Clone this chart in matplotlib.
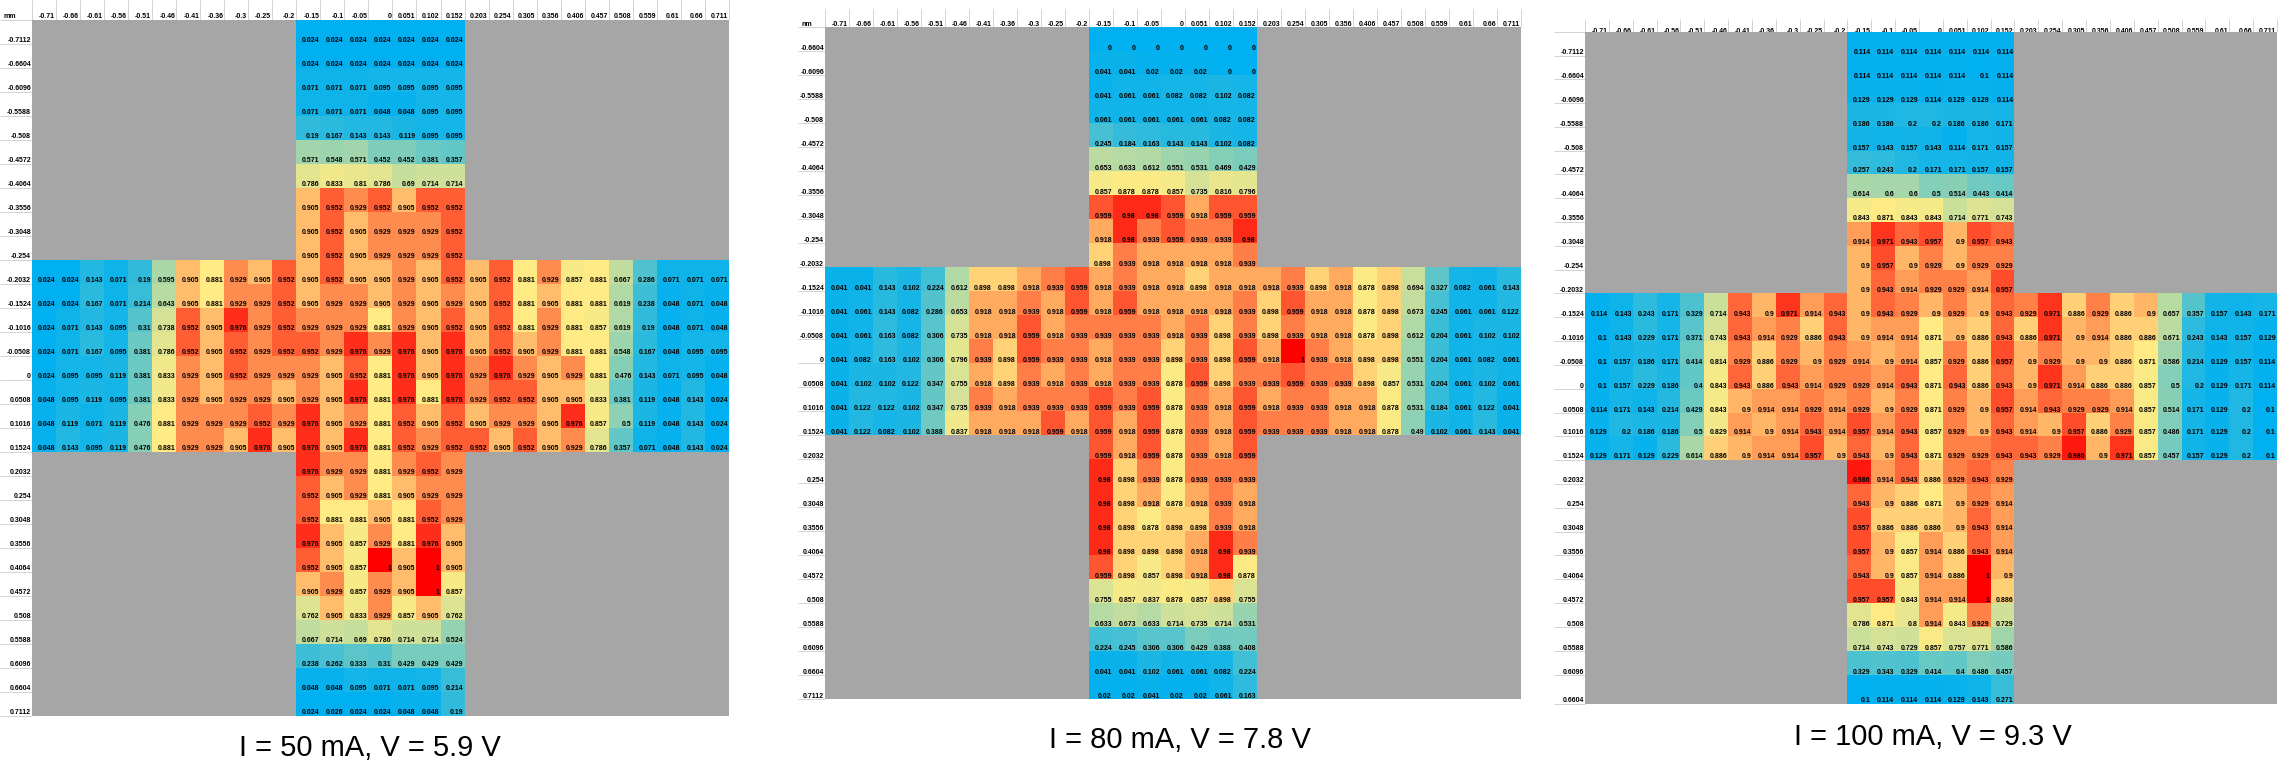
#!/usr/bin/env python3

"""
Normalised emission maps of a cross shaped device at three drive currents.
"""

import matplotlib

matplotlib.use("Agg")
import matplotlib.pyplot as plt
from matplotlib.colors import LinearSegmentedColormap, TwoSlopeNorm
import numpy as np

col_labels = [
    "-0.71", "-0.66", "-0.61", "-0.56", "-0.51", "-0.46", "-0.41", "-0.36", "-0.3", "-0.25",
    "-0.2", "-0.15", "-0.1", "-0.05", "0", "0.051", "0.102", "0.152", "0.203", "0.254",
    "0.305", "0.356", "0.406", "0.457", "0.508", "0.559", "0.61", "0.66", "0.711",
]
row_labels = [
    "-0.7112", "-0.6604", "-0.6096", "-0.5588", "-0.508", "-0.4572", "-0.4064", "-0.3556",
    "-0.3048", "-0.254", "-0.2032", "-0.1524", "-0.1016", "-0.0508", "0", "0.0508", "0.1016",
    "0.1524", "0.2032", "0.254", "0.3048", "0.3556", "0.4064", "0.4572", "0.508", "0.5588",
    "0.6096", "0.6604", "0.7112",
]

# I = 50 mA
top_50 = [
    [0.024, 0.024, 0.024, 0.024, 0.024, 0.024, 0.024],
    [0.024, 0.024, 0.024, 0.024, 0.024, 0.024, 0.024],
    [0.071, 0.071, 0.071, 0.095, 0.095, 0.095, 0.095],
    [0.071, 0.071, 0.071, 0.048, 0.048, 0.095, 0.095],
    [0.19, 0.167, 0.143, 0.143, 0.119, 0.095, 0.095],
    [0.571, 0.548, 0.571, 0.452, 0.452, 0.381, 0.357],
    [0.786, 0.833, 0.81, 0.786, 0.69, 0.714, 0.714],
    [0.905, 0.952, 0.929, 0.952, 0.905, 0.952, 0.952],
    [0.905, 0.952, 0.905, 0.929, 0.929, 0.929, 0.952],
    [0.905, 0.952, 0.905, 0.929, 0.929, 0.929, 0.952],
]
mid_50 = [
    [0.024, 0.024, 0.143, 0.071, 0.19, 0.595, 0.905, 0.881, 0.929, 0.905, 0.952,
     0.905, 0.952, 0.905, 0.905, 0.929, 0.905, 0.952,
     0.905, 0.952, 0.881, 0.929, 0.857, 0.881, 0.667, 0.286, 0.071, 0.071, 0.071],
    [0.024, 0.024, 0.167, 0.071, 0.214, 0.643, 0.905, 0.881, 0.929, 0.929, 0.952,
     0.905, 0.929, 0.929, 0.905, 0.929, 0.905, 0.929,
     0.905, 0.952, 0.881, 0.905, 0.881, 0.881, 0.619, 0.238, 0.048, 0.071, 0.048],
    [0.024, 0.071, 0.143, 0.095, 0.31, 0.738, 0.952, 0.905, 0.976, 0.929, 0.952,
     0.929, 0.929, 0.929, 0.881, 0.929, 0.905, 0.952,
     0.905, 0.952, 0.881, 0.929, 0.881, 0.857, 0.619, 0.19, 0.048, 0.071, 0.048],
    [0.024, 0.071, 0.167, 0.095, 0.381, 0.786, 0.952, 0.905, 0.952, 0.929, 0.952,
     0.952, 0.929, 0.976, 0.929, 0.976, 0.905, 0.976,
     0.905, 0.952, 0.905, 0.929, 0.881, 0.881, 0.548, 0.167, 0.048, 0.095, 0.095],
    [0.024, 0.095, 0.095, 0.119, 0.381, 0.833, 0.929, 0.905, 0.952, 0.929, 0.929,
     0.929, 0.905, 0.952, 0.881, 0.976, 0.905, 0.976,
     0.929, 0.976, 0.929, 0.905, 0.929, 0.881, 0.476, 0.143, 0.071, 0.095, 0.048],
    [0.048, 0.095, 0.119, 0.095, 0.381, 0.833, 0.929, 0.905, 0.929, 0.929, 0.905,
     0.929, 0.905, 0.976, 0.881, 0.976, 0.881, 0.976,
     0.929, 0.952, 0.952, 0.905, 0.905, 0.833, 0.381, 0.119, 0.048, 0.143, 0.024],
    [0.048, 0.119, 0.071, 0.119, 0.476, 0.881, 0.929, 0.929, 0.929, 0.952, 0.929,
     0.976, 0.905, 0.929, 0.881, 0.952, 0.905, 0.952,
     0.905, 0.929, 0.929, 0.905, 0.976, 0.857, 0.5, 0.119, 0.048, 0.143, 0.024],
    [0.048, 0.143, 0.095, 0.119, 0.476, 0.881, 0.929, 0.929, 0.905, 0.976, 0.905,
     0.976, 0.905, 0.976, 0.881, 0.952, 0.929, 0.952,
     0.952, 0.905, 0.952, 0.905, 0.929, 0.786, 0.357, 0.071, 0.048, 0.143, 0.024],
]
bottom_50 = [
    [0.976, 0.929, 0.929, 0.881, 0.929, 0.952, 0.929],
    [0.952, 0.905, 0.929, 0.881, 0.905, 0.929, 0.929],
    [0.952, 0.881, 0.881, 0.905, 0.881, 0.952, 0.929],
    [0.976, 0.905, 0.857, 0.929, 0.881, 0.976, 0.905],
    [0.952, 0.905, 0.857, 1, 0.905, 1, 0.905],
    [0.905, 0.929, 0.857, 0.929, 0.905, 1, 0.857],
    [0.762, 0.905, 0.833, 0.929, 0.857, 0.905, 0.762],
    [0.667, 0.714, 0.69, 0.786, 0.714, 0.714, 0.524],
    [0.238, 0.262, 0.333, 0.31, 0.429, 0.429, 0.429],
    [0.048, 0.048, 0.095, 0.071, 0.071, 0.095, 0.214],
    [0.024, 0.026, 0.024, 0.024, 0.048, 0.048, 0.19],
]

# I = 80 mA
top_80 = [
    [0, 0, 0, 0, 0, 0, 0],
    [0.041, 0.041, 0.02, 0.02, 0.02, 0, 0],
    [0.041, 0.061, 0.061, 0.082, 0.082, 0.102, 0.082],
    [0.061, 0.061, 0.061, 0.061, 0.061, 0.082, 0.082],
    [0.245, 0.184, 0.163, 0.143, 0.143, 0.102, 0.082],
    [0.653, 0.633, 0.612, 0.551, 0.531, 0.469, 0.429],
    [0.857, 0.878, 0.878, 0.857, 0.735, 0.816, 0.796],
    [0.959, 0.98, 0.98, 0.959, 0.918, 0.959, 0.959],
    [0.918, 0.98, 0.939, 0.959, 0.939, 0.939, 0.98],
    [0.898, 0.939, 0.918, 0.918, 0.918, 0.918, 0.939],
]
mid_80 = [
    [0.041, 0.041, 0.143, 0.102, 0.224, 0.612, 0.898, 0.898, 0.918, 0.939, 0.959,
     0.918, 0.939, 0.918, 0.918, 0.898, 0.918, 0.918,
     0.918, 0.939, 0.898, 0.918, 0.878, 0.898, 0.694, 0.327, 0.082, 0.061, 0.143],
    [0.041, 0.061, 0.143, 0.082, 0.286, 0.653, 0.918, 0.918, 0.939, 0.918, 0.959,
     0.918, 0.959, 0.918, 0.918, 0.918, 0.918, 0.939,
     0.898, 0.959, 0.918, 0.918, 0.878, 0.898, 0.673, 0.245, 0.061, 0.061, 0.122],
    [0.041, 0.061, 0.163, 0.082, 0.306, 0.735, 0.918, 0.918, 0.959, 0.918, 0.939,
     0.939, 0.939, 0.939, 0.918, 0.939, 0.898, 0.939,
     0.898, 0.939, 0.918, 0.918, 0.878, 0.898, 0.612, 0.204, 0.061, 0.102, 0.102],
    [0.041, 0.082, 0.163, 0.102, 0.306, 0.796, 0.939, 0.898, 0.959, 0.939, 0.939,
     0.918, 0.939, 0.939, 0.898, 0.939, 0.898, 0.959,
     0.918, 1, 0.939, 0.918, 0.898, 0.898, 0.551, 0.204, 0.061, 0.082, 0.061],
    [0.041, 0.102, 0.102, 0.122, 0.347, 0.755, 0.918, 0.898, 0.939, 0.918, 0.939,
     0.918, 0.939, 0.939, 0.878, 0.959, 0.898, 0.939,
     0.939, 0.959, 0.939, 0.939, 0.898, 0.857, 0.531, 0.204, 0.061, 0.102, 0.061],
    [0.041, 0.122, 0.122, 0.102, 0.347, 0.735, 0.939, 0.918, 0.939, 0.939, 0.939,
     0.959, 0.939, 0.959, 0.878, 0.939, 0.918, 0.959,
     0.918, 0.939, 0.939, 0.918, 0.918, 0.878, 0.531, 0.184, 0.061, 0.122, 0.041],
    [0.041, 0.122, 0.082, 0.102, 0.388, 0.837, 0.918, 0.918, 0.918, 0.959, 0.918,
     0.959, 0.918, 0.959, 0.878, 0.939, 0.918, 0.959,
     0.939, 0.939, 0.939, 0.918, 0.918, 0.878, 0.49, 0.102, 0.061, 0.143, 0.041],
]
bottom_80 = [
    [0.959, 0.918, 0.959, 0.878, 0.939, 0.918, 0.959],
    [0.98, 0.898, 0.939, 0.878, 0.939, 0.939, 0.939],
    [0.98, 0.898, 0.918, 0.878, 0.918, 0.939, 0.918],
    [0.98, 0.898, 0.878, 0.898, 0.898, 0.939, 0.918],
    [0.98, 0.898, 0.898, 0.898, 0.918, 0.98, 0.939],
    [0.959, 0.898, 0.857, 0.898, 0.918, 0.98, 0.878],
    [0.755, 0.857, 0.837, 0.878, 0.857, 0.898, 0.755],
    [0.633, 0.673, 0.633, 0.714, 0.735, 0.714, 0.531],
    [0.224, 0.245, 0.306, 0.306, 0.429, 0.388, 0.408],
    [0.041, 0.041, 0.102, 0.061, 0.061, 0.082, 0.224],
    [0.02, 0.02, 0.041, 0.02, 0.02, 0.061, 0.163],
]

# I = 100 mA
top_100 = [
    [0.114, 0.114, 0.114, 0.114, 0.114, 0.114, 0.114],
    [0.114, 0.114, 0.114, 0.114, 0.114, 0.1, 0.114],
    [0.129, 0.129, 0.129, 0.114, 0.129, 0.129, 0.114],
    [0.186, 0.186, 0.2, 0.2, 0.186, 0.186, 0.171],
    [0.157, 0.143, 0.157, 0.143, 0.114, 0.171, 0.157],
    [0.257, 0.243, 0.2, 0.171, 0.171, 0.157, 0.157],
    [0.614, 0.6, 0.6, 0.5, 0.514, 0.443, 0.414],
    [0.843, 0.871, 0.843, 0.843, 0.714, 0.771, 0.743],
    [0.914, 0.971, 0.943, 0.957, 0.9, 0.957, 0.943],
    [0.9, 0.957, 0.9, 0.929, 0.9, 0.929, 0.929],
    [0.9, 0.943, 0.914, 0.929, 0.929, 0.914, 0.957],
]
mid_100 = [
    [0.114, 0.143, 0.243, 0.171, 0.329, 0.714, 0.943, 0.9, 0.971, 0.914, 0.943,
     0.9, 0.943, 0.929, 0.9, 0.929, 0.9, 0.943,
     0.929, 0.971, 0.886, 0.929, 0.886, 0.9, 0.657, 0.357, 0.157, 0.143, 0.171],
    [0.1, 0.143, 0.229, 0.171, 0.371, 0.743, 0.943, 0.914, 0.929, 0.886, 0.943,
     0.9, 0.914, 0.914, 0.871, 0.9, 0.886, 0.943,
     0.886, 0.971, 0.9, 0.914, 0.886, 0.886, 0.671, 0.243, 0.143, 0.157, 0.129],
    [0.1, 0.157, 0.186, 0.171, 0.414, 0.814, 0.929, 0.886, 0.929, 0.9, 0.929,
     0.914, 0.9, 0.914, 0.857, 0.929, 0.886, 0.957,
     0.9, 0.929, 0.9, 0.9, 0.886, 0.871, 0.586, 0.214, 0.129, 0.157, 0.114],
    [0.1, 0.157, 0.229, 0.186, 0.4, 0.843, 0.943, 0.886, 0.943, 0.914, 0.929,
     0.929, 0.914, 0.943, 0.871, 0.943, 0.886, 0.943,
     0.9, 0.971, 0.914, 0.886, 0.886, 0.857, 0.5, 0.2, 0.129, 0.171, 0.114],
    [0.114, 0.171, 0.143, 0.214, 0.429, 0.843, 0.9, 0.914, 0.914, 0.929, 0.914,
     0.929, 0.9, 0.929, 0.871, 0.929, 0.9, 0.957,
     0.914, 0.943, 0.929, 0.929, 0.914, 0.857, 0.514, 0.171, 0.129, 0.2, 0.1],
    [0.129, 0.2, 0.186, 0.186, 0.5, 0.829, 0.914, 0.9, 0.914, 0.943, 0.914,
     0.957, 0.914, 0.943, 0.857, 0.929, 0.9, 0.943,
     0.914, 0.9, 0.957, 0.886, 0.929, 0.857, 0.486, 0.171, 0.129, 0.2, 0.1],
    [0.129, 0.171, 0.129, 0.229, 0.614, 0.886, 0.9, 0.914, 0.914, 0.957, 0.9,
     0.943, 0.9, 0.943, 0.871, 0.929, 0.929, 0.943,
     0.943, 0.929, 0.986, 0.9, 0.971, 0.857, 0.457, 0.157, 0.129, 0.2, 0.1],
]
bottom_100 = [
    [0.986, 0.914, 0.943, 0.886, 0.929, 0.943, 0.929],
    [0.943, 0.9, 0.886, 0.871, 0.9, 0.929, 0.914],
    [0.957, 0.886, 0.886, 0.886, 0.9, 0.943, 0.914],
    [0.957, 0.9, 0.857, 0.914, 0.886, 0.943, 0.914],
    [0.943, 0.9, 0.857, 0.914, 0.886, 1, 0.9],
    [0.957, 0.957, 0.843, 0.914, 0.914, 1, 0.886],
    [0.786, 0.871, 0.8, 0.914, 0.843, 0.929, 0.729],
    [0.714, 0.743, 0.729, 0.857, 0.757, 0.771, 0.586],
    [0.329, 0.343, 0.329, 0.414, 0.4, 0.486, 0.457],
    [0.1, 0.114, 0.114, 0.114, 0.129, 0.143, 0.271],
]

GREY = "#a6a6a6"
LINE = "#d4d4d4"
cell_cmap = LinearSegmentedColormap.from_list(
    "excel", ["#00b0f0", "#ffeb84", "#ff0000"]
).with_extremes(bad=GREY)


def fmt(v):
    return f"{v:.3f}".rstrip("0").rstrip(".")


def build_grid(top, mid, bottom):
    """Stack the three arms into one grid, nan outside the cross"""
    grid = np.full((len(top) + len(mid) + len(bottom), 29), np.nan)
    grid[: len(top), 11:18] = top
    grid[len(top) : len(top) + len(mid)] = mid
    grid[len(top) + len(mid) :, 11:18] = bottom
    return np.ma.masked_invalid(grid)


def draw_panel(ax, grid, rows, x_edges, y_edges, vmid, margin_x, header_top, header_base, corner, title, title_x, title_y):
    norm = TwoSlopeNorm(vcenter=vmid, vmin=grid.min(), vmax=grid.max())
    ax.pcolormesh(x_edges, y_edges, grid, cmap=cell_cmap, norm=norm, antialiased=False, zorder=3)

    # spreadsheet header and row margin
    ax.vlines(x_edges, header_top, y_edges[0], color=LINE, lw=0.72, zorder=1)
    ax.hlines(y_edges, margin_x, x_edges[0], color=LINE, lw=0.72, zorder=1)

    font = dict(family="Liberation Sans", fontsize=5, fontweight="bold", color="black", ha="right", va="baseline")
    for j, label in enumerate(col_labels):
        ax.text(x_edges[j + 1] - 1, header_base, label, zorder=2, **font)
    for i, label in enumerate(rows):
        ax.text(x_edges[0] - 1, y_edges[i + 1] - 1.5, label, zorder=2, **font)
    if corner:
        ax.text(margin_x + 3, header_base, corner, family="Liberation Sans", fontsize=5, fontweight="bold", ha="left", va="baseline")

    for i in range(grid.shape[0]):
        for j in range(29):
            if grid.mask[i, j]:
                continue
            ax.text(x_edges[j + 1] - 1, y_edges[i + 1] - 1.5, fmt(grid[i, j]), zorder=4, **font)

    ax.text(title_x, title_y, title, family="Liberation Sans", fontsize=21, ha="center", va="baseline", color="black")


def create_figure():
    fig = plt.figure(figsize=(22.8, 7.68), dpi=100)
    ax = fig.add_axes([0, 0, 1, 1])
    ax.set_xlim(0, 2280)
    ax.set_ylim(768, 0)
    ax.axis("off")

    draw_panel(
        ax, build_grid(top_50, mid_50, bottom_50), row_labels,
        32 + 24.03 * np.arange(30), 20 + 24 * np.arange(30),
        0.881, 0, 0, 18.5, "mm", "I = 50 mA, V = 5.9 V", 370, 756,
    )
    draw_panel(
        ax, build_grid(top_80, mid_80, bottom_80), row_labels[1:],
        825 + 24 * np.arange(30), 27 + 24 * np.arange(29),
        0.886, 798, 9, 25.5, "nm", "I = 80 mA, V = 7.8 V", 1180, 748,
    )
    # the third sheet was pasted slightly squashed, rows are not all the same height
    y_edges_100 = [32, 56, 79, 103, 127, 151, 174, 198, 222, 246, 270, 293, 317, 341, 365,
                   389, 413, 436, 460, 484, 508, 532, 555, 579, 603, 627, 651, 675, 704]
    draw_panel(
        ax, build_grid(top_100, mid_100, bottom_100), row_labels[:-1],
        1585 + 23.86 * np.arange(30), np.array(y_edges_100),
        0.871, 1554, 19, 33, "", "I = 100 mA, V = 9.3 V", 1933, 745,
    )

    fig.savefig("out.png", dpi=100, facecolor="white")
    return fig


if __name__ == "__main__":
    create_figure()
